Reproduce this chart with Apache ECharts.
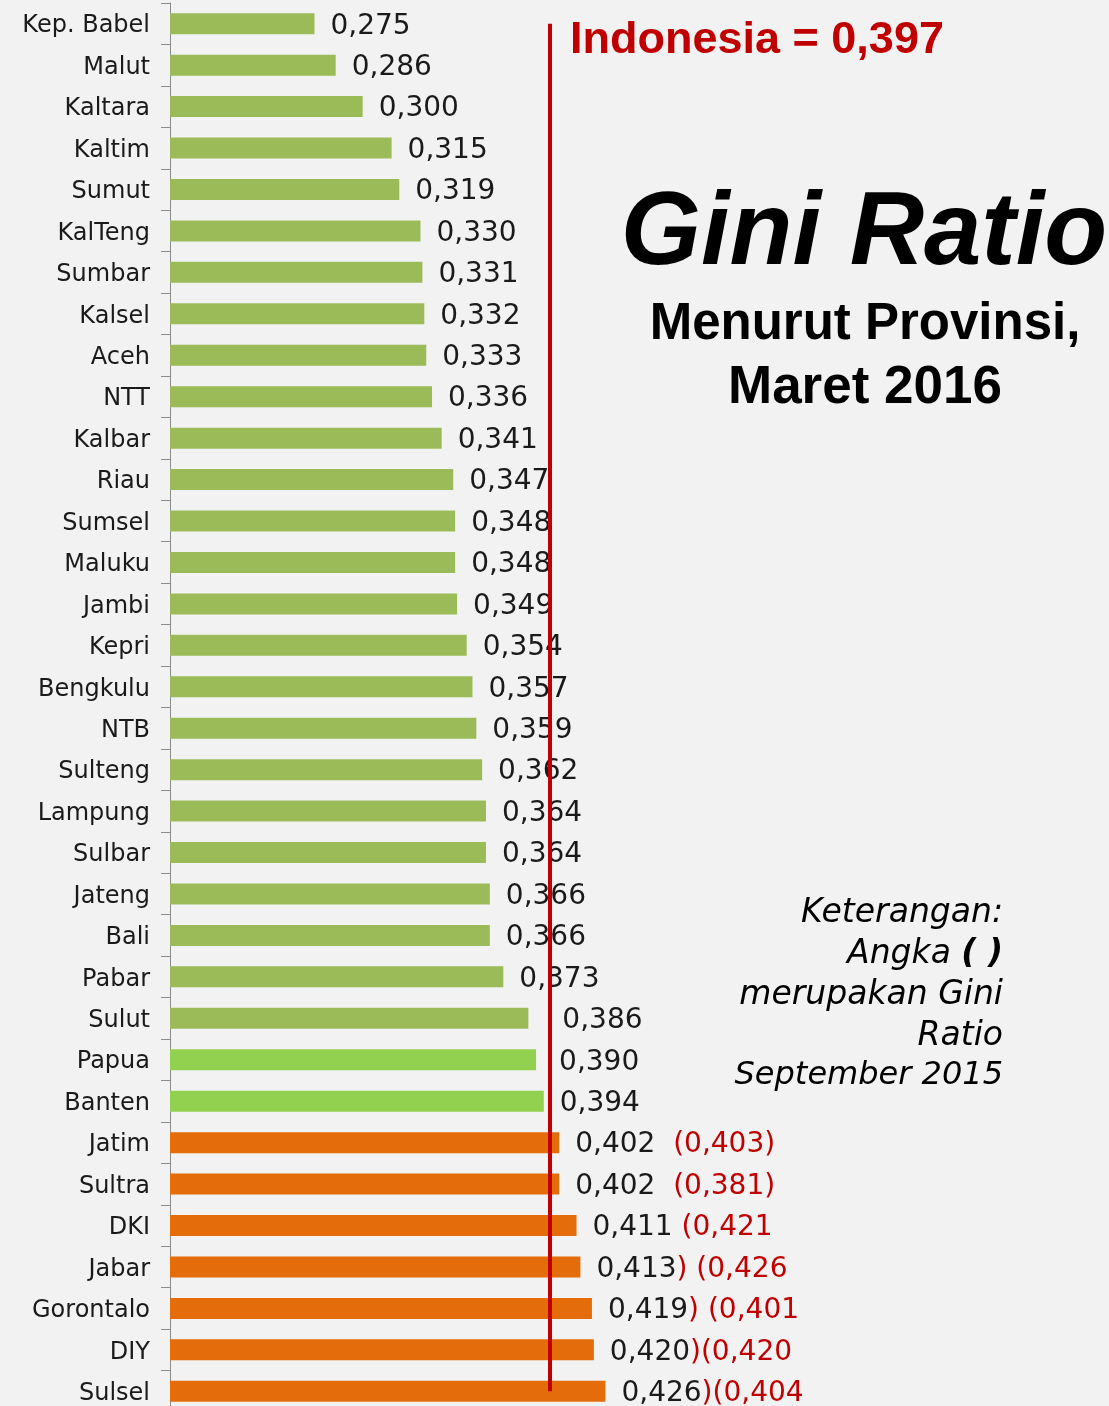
<!DOCTYPE html>
<html>
<head>
<meta charset="utf-8">
<title>Gini Ratio Menurut Provinsi, Maret 2016</title>
<script src="https://cdn.jsdelivr.net/npm/echarts@6/dist/echarts.min.js"></script>
<style>
  html, body { margin: 0; padding: 0; background: #f2f2f2; }
  #main { width: 1109px; height: 1406px; }
</style>
</head>
<body>
<div id="main"></div>
<script>
// provinsi, urut dari gini terkecil
var provinces = ['Kep. Babel', 'Malut', 'Kaltara', 'Kaltim', 'Sumut', 'KalTeng', 'Sumbar', 'Kalsel', 'Aceh', 'NTT',
	'Kalbar', 'Riau', 'Sumsel', 'Maluku', 'Jambi', 'Kepri', 'Bengkulu', 'NTB', 'Sulteng', 'Lampung',
	'Sulbar', 'Jateng', 'Bali', 'Pabar', 'Sulut', 'Papua', 'Banten', 'Jatim', 'Sultra', 'DKI',
	'Jabar', 'Gorontalo', 'DIY', 'Sulsel'];
var gini2016 = [0.275, 0.286, 0.300, 0.315, 0.319, 0.330, 0.331, 0.332, 0.333, 0.336,
	0.341, 0.347, 0.348, 0.348, 0.349, 0.354, 0.357, 0.359, 0.362, 0.364,
	0.364, 0.366, 0.366, 0.373, 0.386, 0.390, 0.394, 0.402, 0.402, 0.411,
	0.413, 0.419, 0.420, 0.426];
var indonesia = 0.397;

// angka dalam kurung = gini ratio september 2015
var septProv = ['Jatim', 'Sultra', 'DKI', 'Jabar', 'Gorontalo', 'DIY', 'Sulsel'];
var septVal = [0.403, 0.381, 0.421, 0.426, 0.401, 0.420, 0.404];
var septText = ['  (0,403)', '  (0,381)', ' (0,421', ') (0,426', ') (0,401', ')(0,420', ')(0,404'];

var brightGreen = ['Papua', 'Banten'];

function fmt(v) {
	return v.toFixed(3).replace('.', ',');
}

var myChart = echarts.init(document.getElementById('main'));

var barData = provinces.map(function(name, i) {
	var v = gini2016[i];
	var color = '#9bbb59';
	if (brightGreen.indexOf(name) >= 0) color = '#92d050';
	if (v > indonesia) color = '#e46c0a';
	var item = { value: v, itemStyle: { color: color } };
	if (name === 'Sulut') item.label = { distance: 34 };
	if (name === 'Papua') item.label = { distance: 23 };
	return item;
});

var option = {
	backgroundColor: '#f2f2f2',
	animation: false,
	grid: { left: 170, top: 3, width: 578, height: 1409, outerBoundsMode: 'none', containLabel: false },
	xAxis: {
		type: 'value',
		min: 0.2,
		max: 0.5,
		show: false
	},
	yAxis: {
		type: 'category',
		inverse: true,
		data: provinces,
		axisLine: { show: true, lineStyle: { color: '#8c8c8c', width: 1 } },
		axisTick: { show: true, length: 9, lineStyle: { color: '#8c8c8c' } },
		axisLabel: {
			margin: 20,
			formatter: function(v) { return '{a|' + v + '}'; },
			rich: {
				a: { fontFamily: 'DejaVu Sans', fontSize: 24, color: '#1a1a1a', padding: [5, 0, 0, 0] }
			}
		}
	},
	series: [{
		type: 'bar',
		data: barData,
		barWidth: 21,
		label: {
			show: true,
			position: 'right',
			distance: 16,
			padding: [5, 0, 0, 0],
			formatter: function(p) {
				var s = '{v|' + fmt(p.value) + '}';
				var i = septProv.indexOf(p.name);
				if (i >= 0) s += '{r|' + septText[i] + '}';
				return s;
			},
			rich: {
				v: { fontFamily: 'DejaVu Sans', fontSize: 28, color: '#1a1a1a' },
				r: { fontFamily: 'DejaVu Sans', fontSize: 28, color: '#c00000' }
			}
		},
		markLine: {
			silent: true,
			symbol: ['none', 'none'],
			lineStyle: { color: '#c00000', width: 4, type: 'solid' },
			label: { show: false },
			data: [[
				{ coord: [indonesia, provinces[0]] },
				{ coord: [indonesia, provinces[provinces.length - 1]] }
			]]
		}
	}],
	graphic: [
		{
			type: 'text', left: 570, top: 18,
			style: { text: 'Indonesia = ' + fmt(indonesia), fontFamily: 'Liberation Sans', fontWeight: 'bold', fontSize: 45, fill: '#c00000' }
		},
		{
			type: 'text', x: 864, y: 236,
			style: { text: 'Gini Ratio', textAlign: 'center', textVerticalAlign: 'middle', fontFamily: 'Liberation Sans', fontWeight: 'bold', fontStyle: 'italic', fontSize: 103, fill: '#000' }
		},
		{
			type: 'text', x: 865, y: 325,
			style: { text: 'Menurut Provinsi,', textAlign: 'center', textVerticalAlign: 'middle', fontFamily: 'Liberation Sans', fontWeight: 'bold', fontSize: 51, fill: '#000' }
		},
		{
			type: 'text', x: 865, y: 388,
			style: { text: 'Maret 2016', textAlign: 'center', textVerticalAlign: 'middle', fontFamily: 'Liberation Sans', fontWeight: 'bold', fontSize: 53, fill: '#000' }
		},
		{
			type: 'text', x: 1003, y: 913,
			style: { text: 'Keterangan:', textAlign: 'right', textVerticalAlign: 'middle', fontFamily: 'DejaVu Sans', fontStyle: 'italic', fontSize: 33, fill: '#000' }
		},
		{
			type: 'text', x: 1003, y: 954,
			style: {
				text: '{a|Angka }{b|( )}', textAlign: 'right', textVerticalAlign: 'middle',
				rich: {
					a: { fontFamily: 'DejaVu Sans', fontStyle: 'italic', fontSize: 33, color: '#000' },
					b: { fontFamily: 'DejaVu Sans', fontStyle: 'italic', fontWeight: 'bold', fontSize: 33, color: '#c00000' }
				}
			}
		},
		{
			type: 'text', x: 1003, y: 995,
			style: { text: 'merupakan Gini', textAlign: 'right', textVerticalAlign: 'middle', fontFamily: 'DejaVu Sans', fontStyle: 'italic', fontSize: 33, fill: '#000' }
		},
		{
			type: 'text', x: 1003, y: 1036,
			style: { text: 'Ratio', textAlign: 'right', textVerticalAlign: 'middle', fontFamily: 'DejaVu Sans', fontStyle: 'italic', fontSize: 33, fill: '#000' }
		},
		{
			type: 'text', x: 1003, y: 1076,
			style: { text: 'September 2015', textAlign: 'right', textVerticalAlign: 'middle', fontFamily: 'DejaVu Sans', fontStyle: 'italic', fontSize: 32, fill: '#000' }
		}
	]
};
myChart.setOption(option);
</script>
</body>
</html>
